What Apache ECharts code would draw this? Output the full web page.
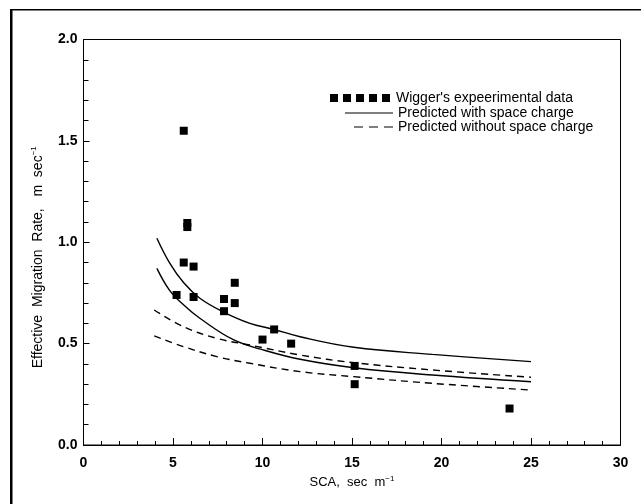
<!DOCTYPE html>
<html><head><meta charset="utf-8">
<script src="https://cdn.jsdelivr.net/npm/echarts@6/dist/echarts.min.js"></script>
<style>html,body{margin:0;padding:0;background:#fff}#c{width:641px;height:504px}</style>
</head><body><div id="c"></div><script>
// Wigger's experimental data [SCA, rate]
const expData = [[5.6,1.55],[5.8,1.095],[5.8,1.075],[5.6,0.90],[6.15,0.88],[5.2,0.74],[6.15,0.73],[7.85,0.72],[8.45,0.80],[8.45,0.70],[7.85,0.66],[10.65,0.57],[10.0,0.52],[11.6,0.50],[15.15,0.39],[15.15,0.30],[23.8,0.18]];
// Predicted with space charge (upper / lower)
const withUpper = [[4.1,1.02],[4.8,0.90],[5.6,0.80],[6.5,0.724],[7.8,0.657],[9.3,0.60],[10.6,0.571],[12.1,0.534],[15.1,0.482],[19.5,0.447],[25,0.411]];
const withLower = [[4.1,0.871],[4.8,0.764],[5.6,0.69],[6.5,0.625],[8.4,0.518],[10.2,0.465],[12.1,0.423],[15.1,0.381],[19.5,0.345],[25,0.312]];
// Predicted without space charge (upper / lower)
const withoutUpper = [[3.95,0.666],[5.6,0.583],[7.45,0.526],[9.3,0.493],[12.1,0.444],[15.1,0.406],[19.5,0.37],[25,0.334]];
const withoutLower = [[3.95,0.538],[5.6,0.485],[7.45,0.436],[9.3,0.403],[12.1,0.362],[15.1,0.337],[19.5,0.304],[25,0.271]];
const xTicks = [0,5,10,15,20,25,30];
const yTicks = [0.0,0.5,1.0,1.5,2.0];
const names = ["Wigger's expeerimental data","Predicted with space charge","Predicted without space charge"];

const FONT = 'Liberation Sans';
const chart = echarts.init(document.getElementById('c'), null, {renderer:'canvas'});
const lineSeries = (name, data, dashed) => ({
  type:'line', name, data, smooth:0.4, symbol:'none', showSymbol:false,
  lineStyle:{color:'#000', width:1.4, type: dashed ? [7,5] : 'solid'}, itemStyle:{color:'#000'},
  animation:false, z:2
});
const legText = {fontFamily:FONT, fontSize:14, color:'#000'};
chart.setOption({
  animation:false,
  backgroundColor:'#fff',
  graphic:[
    {type:'rect', shape:{x:10, y:9, width:2.5, height:495}, style:{fill:'#000'}},
    {type:'rect', shape:{x:10, y:9, width:631, height:1.5}, style:{fill:'#000'}}
  ],
  grid:{left:83.5, right:20.5, top:39.5, bottom:59, show:true, borderColor:'#000', borderWidth:1, outerBoundsMode:'none'},
  legend:[
    {left:330, top:91, itemWidth:62, itemHeight:8, padding:0, selectedMode:false, textStyle:legText,
     data:[{name:names[0], icon:'path://M0,0h8v8h-8zM13,0h8v8h-8zM26,0h8v8h-8zM39,0h8v8h-8zM52,0h8v8h-8z', itemStyle:{color:'#000', opacity:1}}]},
    {left:345, top:106, itemWidth:48, itemHeight:1.5, padding:0, selectedMode:false, textStyle:legText,
     data:[{name:names[1], icon:'path://M0,0h48v1h-48z', itemStyle:{color:'#000', opacity:1}}]},
    {left:354, top:120, itemWidth:39, itemHeight:1.5, padding:0, selectedMode:false, textStyle:legText,
     data:[{name:names[2], icon:'path://M0,0h9v1h-9zM15,0h9v1h-9zM30,0h9v1h-9z', itemStyle:{color:'#000', opacity:1}}]}
  ],
  xAxis:{
    type:'value', min:xTicks[0], max:xTicks[xTicks.length-1], interval:5,
    name:'{a|SCA,  sec  m}{s|−1}', nameLocation:'middle', nameGap:27,
    nameTextStyle:{color:'#000', fontFamily:FONT, fontSize:13, rich:{a:{fontFamily:FONT,fontSize:13,color:'#000',lineHeight:16}, s:{fontFamily:FONT,fontSize:8,color:'#000',verticalAlign:'top'}}},
    axisLine:{show:true, lineStyle:{color:'#000', width:1}},
    axisTick:{show:true, inside:true, length:7, lineStyle:{color:'#000'}},
    minorTick:{show:true, splitNumber:5, length:4, lineStyle:{color:'#000'}},
    splitLine:{show:false},
    axisLabel:{color:'#000', fontFamily:FONT, fontWeight:'bold', fontSize:14, margin:11}
  },
  yAxis:{
    type:'value', min:yTicks[0], max:yTicks[yTicks.length-1], interval:0.5,
    name:'{a|Effective  Migration  Rate,   m  sec}{s|−1}', nameLocation:'middle', nameGap:37,
    nameTextStyle:{color:'#000', fontFamily:FONT, fontSize:14, padding:[0,30,0,0], rich:{a:{fontFamily:FONT,fontSize:14,color:'#000',lineHeight:17}, s:{fontFamily:FONT,fontSize:8,color:'#000',verticalAlign:'top'}}},
    axisLine:{show:true, lineStyle:{color:'#000', width:1}},
    axisTick:{show:true, inside:true, length:6, lineStyle:{color:'#000'}},
    minorTick:{show:true, splitNumber:5, length:5, lineStyle:{color:'#000'}},
    splitLine:{show:false},
    axisLabel:{color:'#000', fontFamily:FONT, fontWeight:'bold', fontSize:14, margin:6, formatter:v=>v.toFixed(1)}
  },
  series:[
    {type:'scatter', name:names[0], data:expData, symbol:'rect', symbolSize:8, itemStyle:{color:'#000', opacity:1}, z:3},
    lineSeries(names[1], withUpper, false),
    lineSeries(names[1], withLower, false),
    lineSeries(names[2], withoutUpper, true),
    lineSeries(names[2], withoutLower, true)
  ]
});
</script></body></html>
